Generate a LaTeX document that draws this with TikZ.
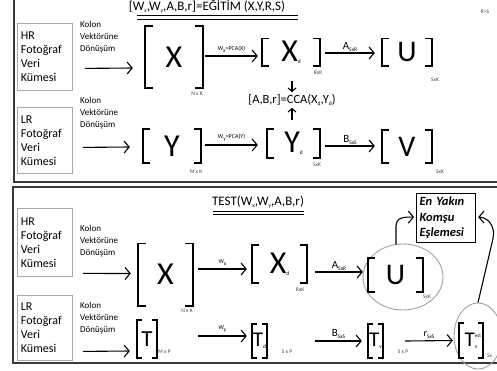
\documentclass[tikz,border=0pt]{standalone}
\usepackage{fontspec}
\setmainfont{Carlito}
\usetikzlibrary{arrows.meta,calc,shapes.geometric}

\newcommand\fsz[2]{\fontsize{#1}{#2}\selectfont}
\newcommand\lo[1]{\raisebox{-2pt}{\fsz{5.5}{5.5}#1}}
\definecolor{panelgray}{HTML}{3A3A3A}
\definecolor{boxgray}{HTML}{A8A8A8}
\definecolor{ringgray}{HTML}{A0A0A0}

% square brackets drawn on the left and right sides of a matrix node
\newcommand\brackets[2]{%
  \draw[brk] ([xshift=#2]#1.north west) -- (#1.north west) -- (#1.south west) -- ([xshift=#2]#1.south west);
  \draw[brk] ([xshift=-#2]#1.north east) -- (#1.north east) -- (#1.south east) -- ([xshift=-#2]#1.south east);}

\tikzset{
  panel/.style={draw=panelgray,line width=2pt},
  srcbox/.style={draw=boxgray,line width=0.8pt,anchor=north west,align=left,
    inner xsep=3.5pt,inner ysep=0pt,font=\fsz{12}{14}},
  note/.style={align=left,anchor=west,inner sep=0pt,font=\fsz{9}{12.2}},
  mat/.style={inner sep=0pt,font=\fsz{32}{32}},
  brk/.style={line width=1.6pt},
  arr/.style={line width=1.1pt,-{Straight Barb[length=5pt,width=12pt,line width=1.1pt]}},
  varr/.style={line width=1.1pt,-{Straight Barb[length=3.5pt,width=8pt,line width=1.1pt]}},
  dimtxt/.style={font=\fsz{5.5}{6},inner sep=0pt,text=black!75},
  lbl/.style={inner sep=0pt,font=\fsz{6}{6}},
  oplbl/.style={inner sep=0pt,font=\fsz{12.5}{13}},
  title/.style={inner sep=0pt,font=\fsz{13}{13}},
  ring/.style={draw=ringgray,line width=0.9pt,ellipse,inner sep=0pt},
  nnbox/.style={draw=black,line width=1.2pt,align=left,inner sep=0pt,
    font=\fsz{12.5}{15.5}\bfseries\itshape,text width=59pt,minimum height=49pt,
    anchor=north west},
}

\begin{document}
\begin{tikzpicture}[x=1pt,y=-1pt]
\useasboundingbox (0,0) rectangle (497,370);
\clip (0,0) rectangle (497,370);

% ---------------- training panel ----------------
\draw[panel] (14,-5) rectangle (520,182);
\node[title] (t1) at (207,7) {[W\lo{x},W\lo{y},A,B,r]=EĞİTİM (X,Y,R,S)};
\draw[line width=0.9pt] (137,15.5) -- (298,15.5) (137,19) -- (298,19);
\node[dimtxt] (rs) at (485,12) {R>S};

\node[srcbox,minimum width=55pt,minimum height=67pt,text width=48pt] (hr1) at (17,23)
  {HR\\Fotoğraf\\Veri\\Kümesi};
\node[note] (k1) at (80,37) {Kolon\\Vektörüne\\Dönüşüm};

\node[mat,minimum width=58pt,minimum height=62pt] (X1) at (174,57) {X};
\node[dimtxt] (X1d) at (197,94) {N x K};
\node[mat,minimum width=58pt,minimum height=27pt] (Xd1) at (291,52) {X\lo{d}};
\node[dimtxt] (Xd1d) at (318,73) {RxK};
\node[mat,minimum width=50pt,minimum height=27pt,font=\fsz{30}{30}] (U1) at (407,52) {U};
\node[dimtxt] (U1d) at (435,80) {SxK};

\node[oplbl] (cca) at (292,100) {[A,B,r]=CCA(X\lo{d},Y\lo{d})};

\node[srcbox,minimum width=55pt,minimum height=66pt,text width=48pt] (lr1) at (17,107)
  {LR\\Fotoğraf\\Veri\\Kümesi};
\node[note] (k2) at (80,113) {Kolon\\Vektörüne\\Dönüşüm};

\node[mat,minimum width=58pt,minimum height=34pt] (Y1) at (172,146) {Y};
\node[dimtxt] (Y1d) at (196,172) {M x K};
\node[mat,minimum width=53pt,minimum height=29pt] (Yd1) at (293.5,143.5) {Y\lo{d}};
\node[dimtxt] (Yd1d) at (317,165) {SxK};
\node[mat,minimum width=50pt,minimum height=33pt,font=\fsz{30}{30}] (V1) at (407,146.5) {V};
\node[dimtxt] (V1d) at (440,172) {SxK};

\brackets{X1}{8pt}
\brackets{Xd1}{7pt}
\brackets{U1}{7pt}
\brackets{Y1}{7pt}
\brackets{Yd1}{7pt}
\brackets{V1}{7pt}

\draw[arr] ($(hr1.east)+(12,11.5)$) -- ($(X1.west)+(-12,11)$);
\draw[arr] ($(X1.east)+(2,-1)$) -- node[lbl,above=3pt] {W\lo{x}=PCA(X)} ($(Xd1.west)+(-4,4)$);
\draw[arr] ($(Xd1.east)+(5,1)$) -- node[oplbl,above=1pt,font=\fsz{11}{11}] {A\lo{SxR}} ($(U1.west)+(-7,1)$);

\draw[arr] ($(lr1.east)+(10,7)$) -- ($(Y1.west)+(-13,1)$);
\draw[arr] ($(Y1.east)+(4,-1)$) -- node[lbl,above=3pt] {W\lo{y}=PCA(Y)} ($(Yd1.west)+(-9,1.5)$);
\draw[arr] ($(Yd1.east)+(5,2.5)$) -- node[oplbl,above=1pt,font=\fsz{11}{11}] {B\lo{SxS}} ($(V1.west)+(-7,-0.5)$);

\draw[varr] ($(Xd1.south)+(1,15)$) -- ($(cca.north)+(0,-2)$);
\draw[varr] ($(Yd1.north)+(-1.5,-9)$) -- ($(cca.south)+(0,2)$);

% ---------------- test panel ----------------
\draw[panel] (13,187) rectangle (520,363);
\node[title] (t2) at (258,202) {TEST(W\lo{x},W\lo{y},A,B,r)};
\draw[line width=0.9pt] (213,211) -- (304,211) (213,214.5) -- (304,214.5);

\node[nnbox] (nn) at (416,193) {\hspace*{3pt}En Yakın\\\hspace*{3pt}Komşu\\\hspace*{3pt}Eşlemesi};

\node[srcbox,minimum width=55pt,minimum height=68pt,text width=48pt] (hr2) at (17,208)
  {HR\\Fotoğraf\\Veri\\Kümesi};
\node[note] (k3) at (80,241) {Kolon\\Vektörüne\\Dönüşüm};

\node[mat,minimum width=55pt,minimum height=62pt] (X2) at (165.5,274.5) {X};
\node[dimtxt] (X2d) at (187,311) {N x K};
\node[mat,minimum width=55pt,minimum height=38pt] (Xd2) at (279.5,264) {X\lo{d}};
\node[dimtxt] (Xd2d) at (300,290) {RxK};
\node[mat,minimum width=55pt,minimum height=34pt,font=\fsz{30}{30}] (U2) at (395.5,275) {U};
\node[dimtxt] (U2d) at (427,297) {SxK};
\node[ring,minimum width=80pt,minimum height=66pt] (eU) at (403,277) {};

\node[srcbox,minimum width=55pt,minimum height=65pt,text width=48pt] (lr2) at (17,295)
  {LR\\Fotoğraf\\Veri\\Kümesi};
\node[note] (k4) at (80,318) {Kolon\\Vektörüne\\Dönüşüm};

\node[mat,minimum width=20pt,minimum height=38pt,font=\fsz{23}{23}] (T1) at (147,339) {T};
\node[dimtxt,anchor=west] (T1d) at (158,352) {M x P};
\node[mat,minimum width=15pt,minimum height=34pt,font=\fsz{21}{21}] (Td) at (259.5,341) {T\lo{d}};
\node[dimtxt] (Tdd) at (287,352) {S x P};
\node[mat,minimum width=15pt,minimum height=34pt,font=\fsz{21}{21}] (Tv) at (375.5,341) {T\lo{v}};
\node[dimtxt] (Tvd) at (403,352) {S x P};
\node[mat,minimum width=24pt,minimum height=35pt,font=\fsz{21}{21}] (Te) at (471,340.5)
  {T\makebox[0pt][l]{\raisebox{9pt}{\fsz{5}{5}est}}\lo{v}};
\node[dimtxt,anchor=west] (Ted) at (487,356) {Sx};
\node[ring,minimum width=48pt,minimum height=66pt] (eT) at (478,336) {};

\brackets{X2}{8pt}
\brackets{Xd2}{7pt}
\brackets{U2}{7pt}
\brackets{T1}{5pt}
\brackets{Td}{5pt}
\brackets{Tv}{5pt}
\brackets{Te}{5pt}

\draw[arr] ($(hr2.east)+(10,31)$) -- ($(X2.west)+(-7,-1)$);
\draw[arr] ($(X2.east)+(5,-5.5)$) -- node[lbl,above=3pt] {W\lo{x}} ($(Xd2.west)+(-5,5)$);
\draw[arr] ($(Xd2.east)+(8,8)$) -- node[oplbl,above=1pt,font=\fsz{11}{11}] {A\lo{SxR}} ($(U2.west)+(-5,-3)$);

\draw[arr] ($(lr2.east)+(10,23.5)$) -- ($(T1.west)+(-7,12)$);
\draw[arr] ($(T1.east)+(41,-3)$) -- node[lbl,above=3pt] {W\lo{y}} ($(Td.west)+(-5,-5)$);
\draw[arr] ($(Td.east)+(48,0)$) -- node[oplbl,above=2pt,font=\fsz{11}{11}] {B\lo{SxS}} ($(Tv.west)+(-6,0)$);
\draw[arr] ($(Tv.east)+(22,0)$) -- node[oplbl,above=2pt,font=\fsz{10}{10}] {r\lo{SxS}} ($(Te.west)+(-6,0)$);

% nearest-neighbour matching inputs
\draw[arr] ($(eU.north)+(-7,1)$) -- ++(0,-18) .. controls +(0,-10) and +(-9,0) .. ($(nn.west)+(-2,-1)$);
\draw[arr] (eT.north) -- ++(15,-64) .. controls +(3,-14) and +(8,0) .. ($(nn.east)+(2,-1)$);
\end{tikzpicture}
\end{document}
